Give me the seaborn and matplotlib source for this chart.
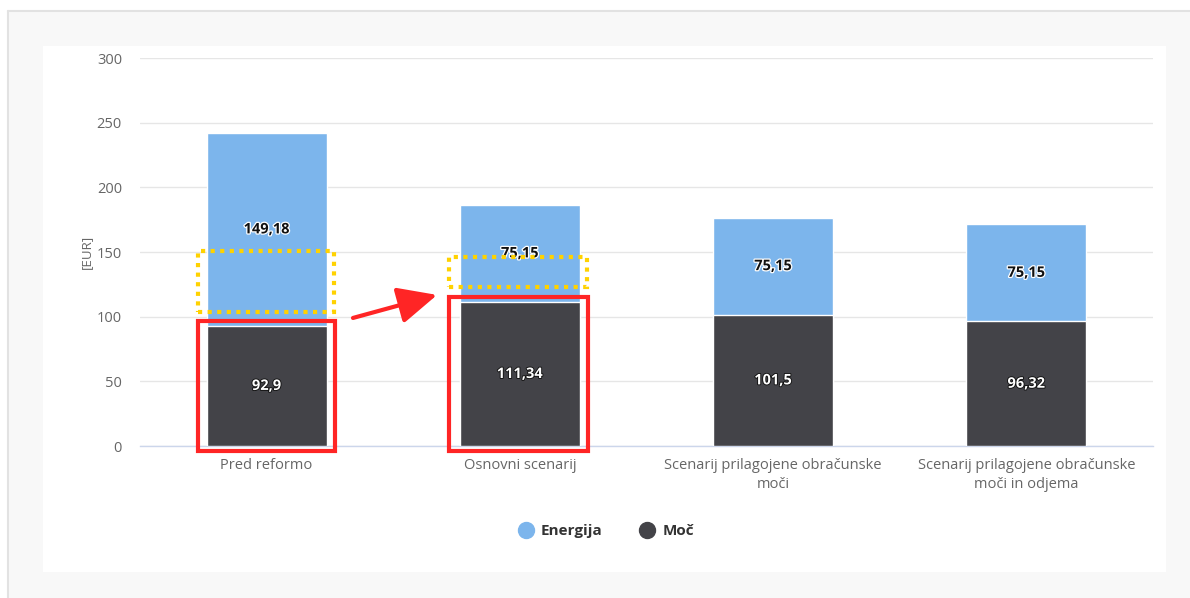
import matplotlib
matplotlib.use("Agg")
import matplotlib.pyplot as plt
import matplotlib.patheffects as pe
from matplotlib.patches import Rectangle, FancyArrowPatch
from matplotlib.lines import Line2D
import pandas as pd
import seaborn as sns

# ---- data -------------------------------------------------------------
categories = [
    "Pred reformo",
    "Osnovni scenarij",
    "Scenarij prilagojene obračunske moči",
    "Scenarij prilagojene obračunske moči in odjema",
]
tick_labels = [
    "Pred reformo",
    "Osnovni scenarij",
    "Scenarij prilagojene obračunske\nmoči",
    "Scenarij prilagojene obračunske\nmoči in odjema",
]
moc = [92.9, 111.34, 101.5, 96.32]
energija = [149.18, 75.15, 75.15, 75.15]
y_ticks = [0, 50, 100, 150, 200, 250, 300]

ENERGY_COLOR = "#7cb5ec"
POWER_COLOR = "#434348"
TEXT_GRAY = "#666666"

sns.set_theme(style="white")
plt.rcParams["font.family"] = ["Open Sans", "DejaVu Sans"]

W, H = 1190, 598
fig = plt.figure(figsize=(W / 100, H / 100), dpi=100)
fig.patch.set_facecolor("white")


def px_rect(x0, y0, x1, y1, **kw):
    """Rectangle given in pixel coordinates measured from the top-left corner."""
    return Rectangle((x0 / W, 1 - y1 / H), (x1 - x0) / W, (y1 - y0) / H,
                     transform=fig.transFigure, **kw)


# page card and inner chart panel
fig.patches.append(px_rect(8, 11, W + 20, H + 20, facecolor="#f8f8f8",
                           edgecolor="none", zorder=-3))
fig.lines.append(Line2D([8 / W, 8 / W], [0, 1 - 11 / H], transform=fig.transFigure,
                        color="#e2e2e2", linewidth=1.5, zorder=-2))
fig.lines.append(Line2D([8 / W, 1], [1 - 11 / H, 1 - 11 / H],
                        transform=fig.transFigure, color="#e2e2e2",
                        linewidth=1.5, zorder=-2))
fig.patches.append(px_rect(43, 46, 1166, 572, facecolor="white",
                           edgecolor="none", zorder=-1))

ax = fig.add_axes([140 / W, (H - 446) / H, 1013 / W, 388 / H])
ax.set_facecolor("none")

df = pd.DataFrame({"kategorija": categories, "Moč": moc, "Energija": energija})
df["skupaj"] = df["Moč"] + df["Energija"]

bar_w = 0.474
sns.barplot(data=df, x="kategorija", y="skupaj", color=ENERGY_COLOR,
            saturation=1, width=bar_w, edgecolor="white", linewidth=1,
            errorbar=None, ax=ax, zorder=3)
sns.barplot(data=df, x="kategorija", y="Moč", color=POWER_COLOR,
            saturation=1, width=bar_w, edgecolor="white", linewidth=1,
            errorbar=None, ax=ax, zorder=3)


def fmt(v):
    return f"{v:g}".replace(".", ",")


for i, (m, e) in enumerate(zip(moc, energija)):
    ax.text(i, m / 2, fmt(m), ha="center", va="center", fontsize=10.5,
            fontweight="bold", color="white", zorder=6,
            path_effects=[pe.withStroke(linewidth=1.3, foreground="#111111")])
    ax.text(i, m + e / 2, fmt(e), ha="center", va="center", fontsize=10.5,
            fontweight="bold", color="#111111", zorder=6,
            path_effects=[pe.withStroke(linewidth=1.8, foreground="white")])

# axes styling
ax.set_xlim(-0.5, len(categories) - 0.5)
ax.set_ylim(0, 300)
ax.set_yticks(y_ticks)
ax.set_yticklabels([str(t) for t in y_ticks])
ax.set_xticks(range(len(categories)))
ax.set_xticklabels(tick_labels, linespacing=1.35)
ax.set_xticks([i - 0.5 for i in range(len(categories) + 1)], minor=True)
ax.grid(axis="y", color="#e6e6e6", linewidth=1, zorder=0)
ax.set_axisbelow(True)
for side in ("top", "right", "left"):
    ax.spines[side].set_visible(False)
ax.spines["bottom"].set_color("#ccd6eb")
ax.spines["bottom"].set_linewidth(1)
ax.tick_params(axis="y", length=0, pad=13, labelsize=10.5, labelcolor=TEXT_GRAY)
ax.tick_params(axis="x", which="major", length=0, pad=8.5, labelsize=10.5,
               labelcolor=TEXT_GRAY)
ax.tick_params(axis="x", which="minor", length=7.2, width=1, color="#ccd6eb",
               direction="out")
ax.set_xlabel("")
ax.set_ylabel("[EUR]", color=TEXT_GRAY, fontsize=9.5)
ax.yaxis.set_label_coords(-0.046, 0.5)

# highlight frames
red = "#ff2525"
gold = "#ffd200"
frames_red = [(-0.27, 0.27, -3.9, 96.6), (0.72, 1.27, -3.9, 115.2)]
frames_gold = [(-0.272, 0.266, 103.6, 150.5), (0.719, 1.264, 123.0, 146.0)]
for x0, x1, y0, y1 in frames_red:
    ax.add_patch(Rectangle((x0, y0), x1 - x0, y1 - y0, fill=False,
                           edgecolor=red, linewidth=3, zorder=7,
                           clip_on=False))
for x0, x1, y0, y1 in frames_gold:
    r = Rectangle((x0, y0), x1 - x0, y1 - y0, fill=False, edgecolor=gold,
                  linewidth=3, zorder=7, clip_on=False,
                  linestyle=(0, (1, 1.3)))
    r.set_capstyle("butt")
    ax.add_patch(r)

ax.add_patch(FancyArrowPatch((0.341, 99), (0.673, 116.8),
                             arrowstyle="-|>,head_length=1.6,head_width=0.75",
                             mutation_scale=15, color=red, linewidth=3,
                             zorder=7, clip_on=False, shrinkA=0, shrinkB=0))

# legend
handles = [
    Line2D([], [], marker="o", linestyle="", markersize=11.5,
           markerfacecolor=ENERGY_COLOR, markeredgecolor=ENERGY_COLOR),
    Line2D([], [], marker="o", linestyle="", markersize=11.5,
           markerfacecolor=POWER_COLOR, markeredgecolor=POWER_COLOR),
]
fig.legend(handles, ["Energija", "Moč"], loc="center",
           bbox_to_anchor=(606 / W, 1 - 531 / H), ncol=2, frameon=False,
           prop={"weight": "bold", "size": 11}, labelcolor="#333333",
           handletextpad=0.5, columnspacing=2.4, handlelength=1.0)

fig.savefig("out.png", dpi=100)
